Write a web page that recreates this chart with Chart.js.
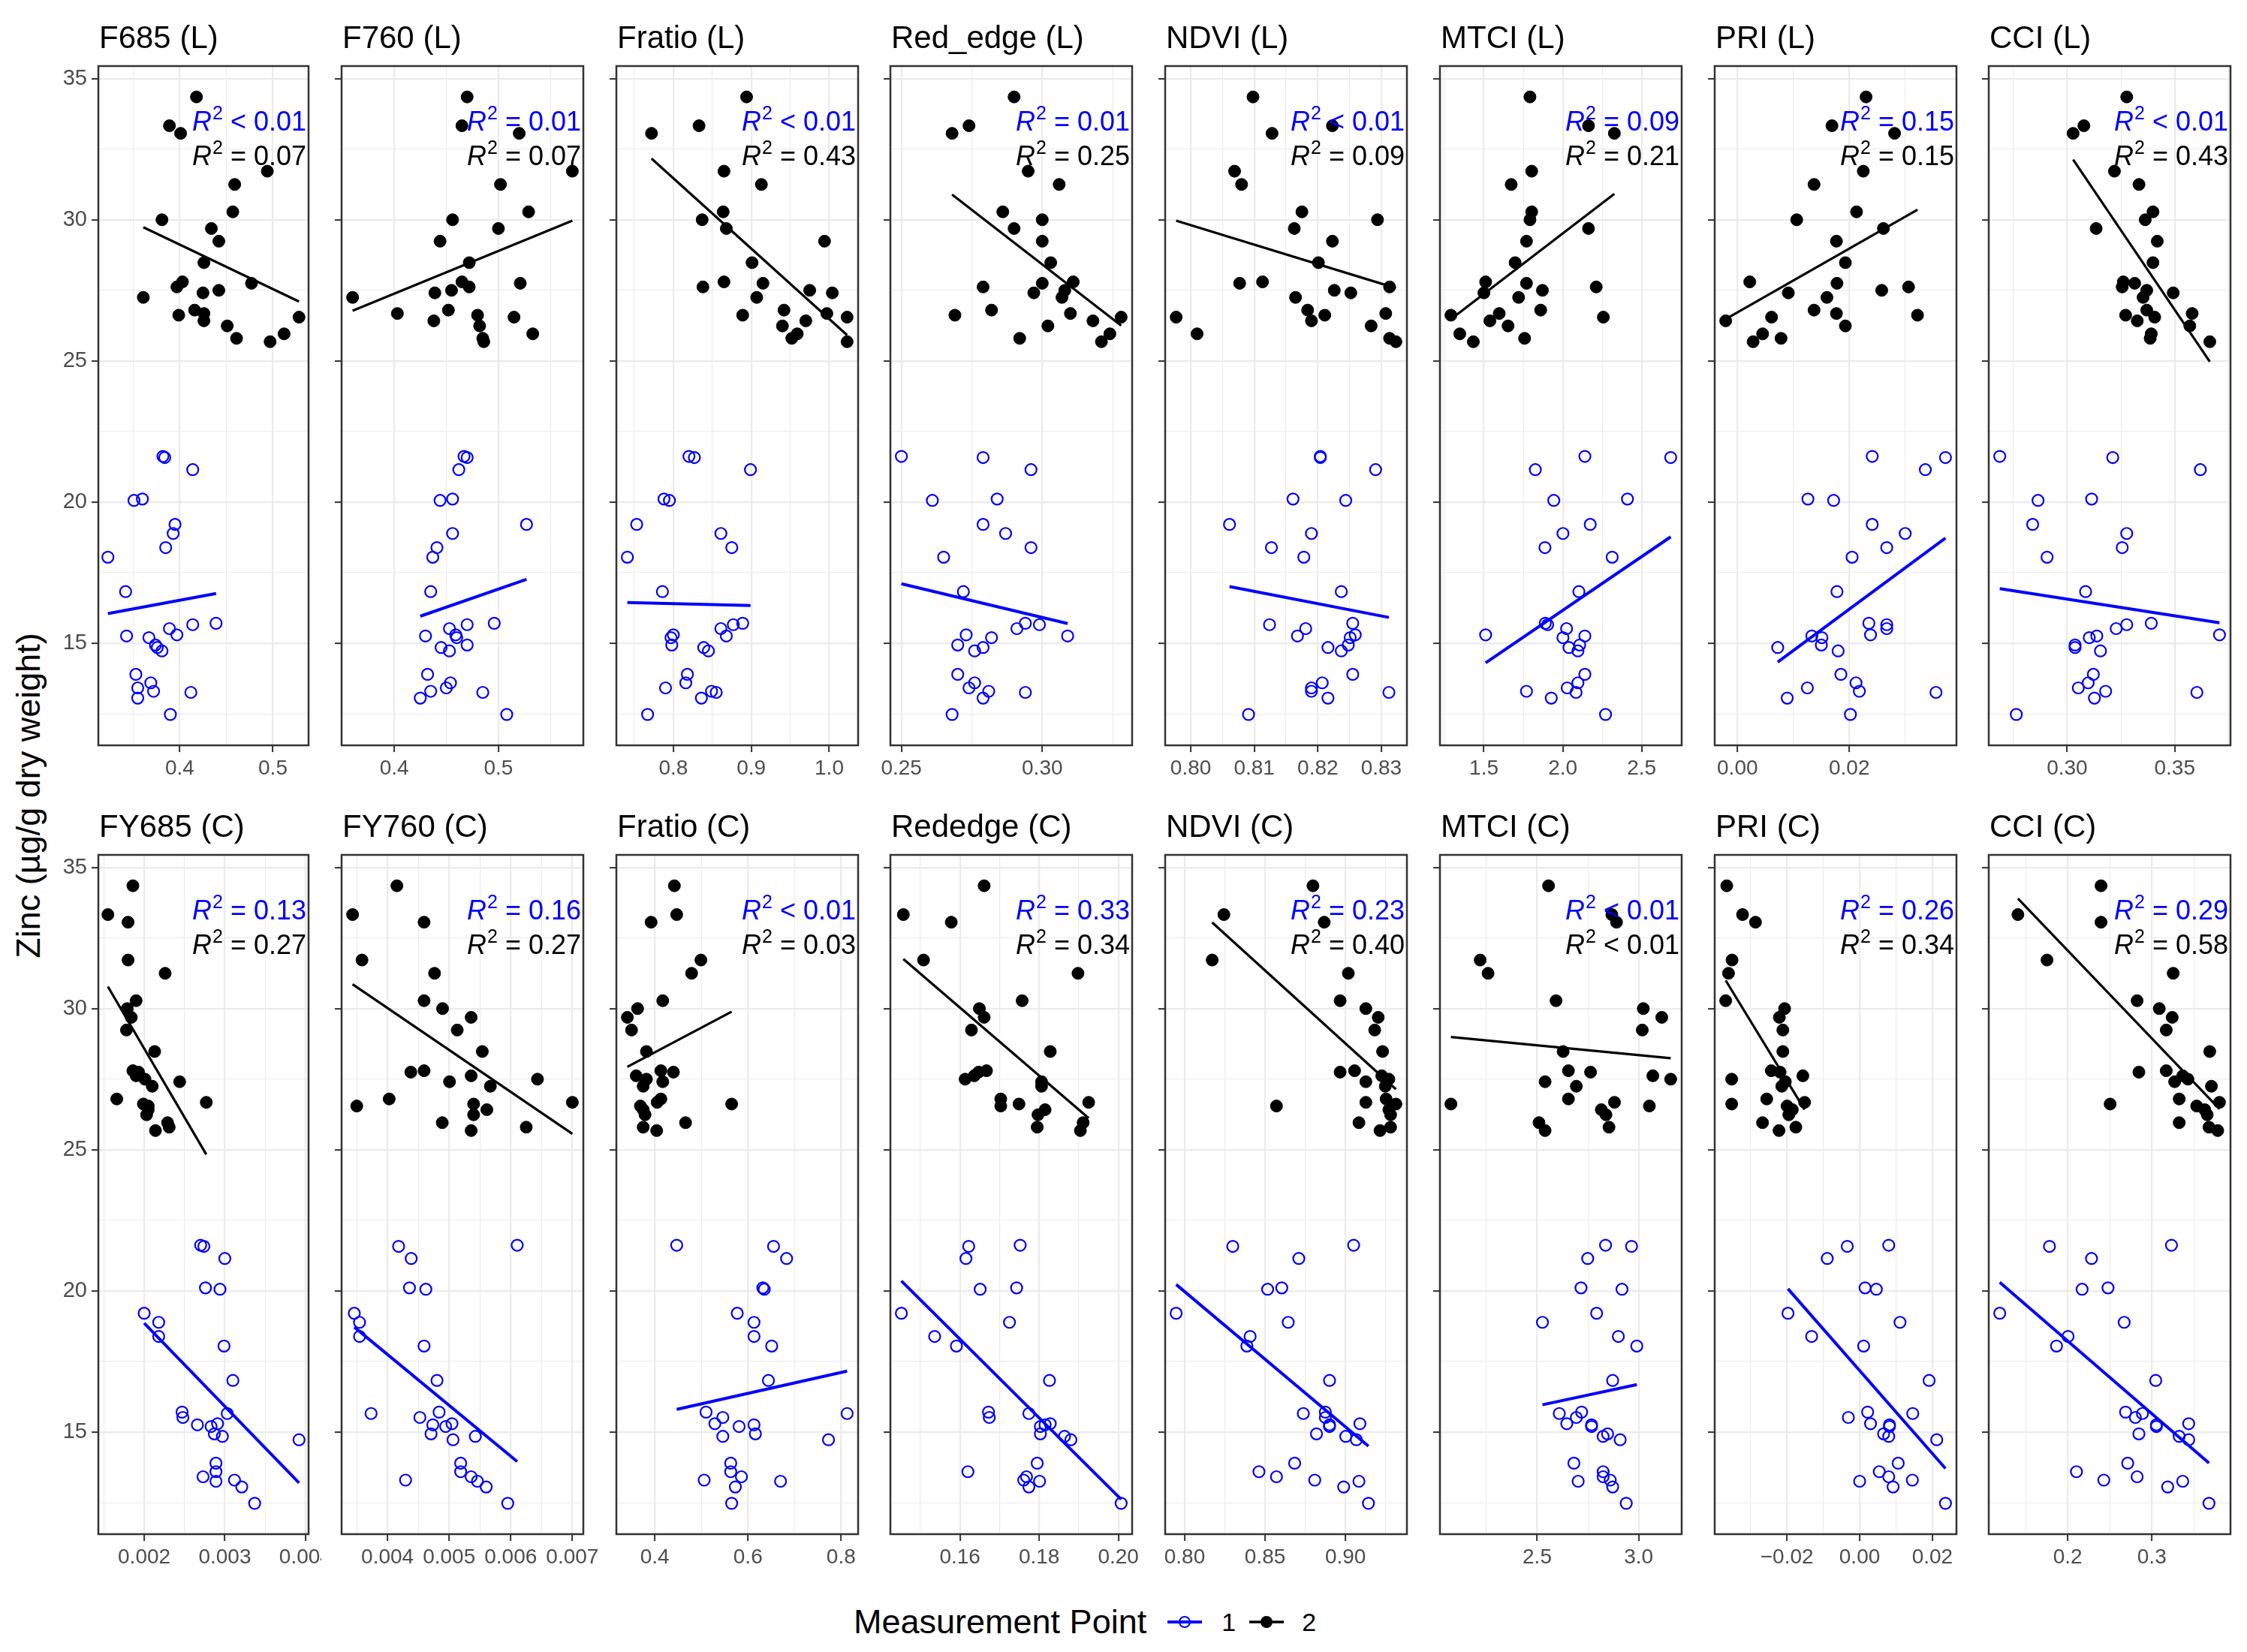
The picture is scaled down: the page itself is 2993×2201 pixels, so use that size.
<!DOCTYPE html>
<html>
<head>
<meta charset="utf-8">
<script src="https://cdn.jsdelivr.net/npm/chart.js@4.4.0/dist/chart.umd.min.js"></script>
<style>
  body { margin: 0; background: #fff; width: 2993px; height: 2201px; position: relative; overflow: hidden;
         font-family: "Liberation Sans", Arial, sans-serif; color: #000; }
  canvas { position: absolute; }
  #ytitle { position: absolute; left: 38px; top: 1060px; font-size: 45px; white-space: nowrap;
            transform: translate(-50%, -50%) rotate(-90deg); }
  #legend { position: absolute; left: 1137px; top: 2161px; transform: translateY(-50%);
            display: flex; align-items: center; white-space: nowrap; }
  #legend .ttl { font-size: 45px; }
  #legend .lab { font-size: 34px; }
</style>
</head>
<body>
<div id="ytitle">Zinc (µg/g dry weight)</div>
<div id="legend">
  <span class="ttl">Measurement Point</span>
  <svg width="46" height="22" style="margin-left:28px"><line x1="0" y1="11" x2="46" y2="11" stroke="#0000FF" stroke-width="4"/><circle cx="23" cy="11" r="7" fill="none" stroke="#0000FF" stroke-width="2"/></svg>
  <span class="lab" style="margin-left:26px">1</span>
  <svg width="46" height="22" style="margin-left:18px"><line x1="0" y1="11" x2="46" y2="11" stroke="#000" stroke-width="3.5"/><circle cx="23" cy="11" r="8" fill="#000"/></svg>
  <span class="lab" style="margin-left:24px">2</span>
</div>
<script>
// zinc (µg/g dry weight) per sample, measurement point 1 and 2
const zinc1 = [21.62, 21.58, 21.15, 20.11, 20.06, 19.21, 18.89, 18.39, 18.05, 16.83, 15.71, 15.66, 15.52,
               15.3, 15.26, 15.2, 14.94, 14.85, 14.73, 13.9, 13.6, 13.42, 13.3, 13.26, 13.06, 12.48];
const zinc2 = [34.35, 33.33, 33.06, 31.72, 31.25, 30.28, 30.0, 29.69, 29.24, 28.48, 27.8, 27.75, 27.62,
               27.5, 27.41, 27.25, 26.8, 26.68, 26.62, 26.55, 26.42, 26.24, 25.96, 25.8, 25.68];
const yTicks = ['15', '20', '25', '30', '35'];

// index values, same sample order as zinc1 / zinc2
const f685L_1 = [0.382,0.384,0.414,0.360,0.351,0.395,0.393,0.385,0.323,0.342,0.439,0.414,0.389,0.397,0.343,0.367,0.374,0.376,0.381,0.353,0.369,0.355,0.372,0.412,0.355,0.390];
const f685L_2 = [0.418,0.389,0.401,0.494,0.459,0.457,0.381,0.434,0.442,0.426,0.403,0.477,0.397,0.442,0.425,0.361,0.416,0.426,0.399,0.528,0.426,0.451,0.512,0.461,0.497];
const f760L_1 = [0.467,0.470,0.462,0.456,0.444,0.527,0.456,0.441,0.437,0.435,0.496,0.470,0.453,0.459,0.430,0.460,0.470,0.445,0.453,0.432,0.454,0.450,0.435,0.485,0.425,0.508];
const f760L_2 = [0.470,0.465,0.520,0.571,0.502,0.529,0.456,0.500,0.444,0.472,0.465,0.521,0.472,0.455,0.439,0.360,0.452,0.403,0.480,0.515,0.438,0.482,0.533,0.485,0.486];
const fratioL_1 = [0.820,0.827,0.899,0.788,0.795,0.753,0.861,0.875,0.741,0.786,0.889,0.877,0.861,0.800,0.868,0.797,0.798,0.839,0.845,0.818,0.816,0.790,0.849,0.855,0.836,0.767];
const fratioL_2 = [0.894,0.833,0.772,0.865,0.913,0.864,0.837,0.868,0.994,0.901,0.865,0.915,0.838,0.975,1.004,0.907,0.942,0.997,0.889,1.023,0.970,0.940,0.959,0.952,1.023];
const redEdgeL_1 = [0.250,0.279,0.296,0.284,0.261,0.279,0.287,0.296,0.265,0.272,0.294,0.299,0.291,0.273,0.309,0.282,0.270,0.279,0.276,0.270,0.276,0.274,0.281,0.294,0.279,0.268];
const redEdgeL_2 = [0.290,0.274,0.268,0.295,0.306,0.286,0.300,0.290,0.300,0.303,0.311,0.300,0.279,0.308,0.297,0.307,0.282,0.310,0.269,0.328,0.318,0.302,0.324,0.292,0.321];
const ndviL_1 = [0.8204,0.8204,0.8291,0.8161,0.8244,0.8061,0.8190,0.8127,0.8178,0.8237,0.8255,0.8124,0.8181,0.8259,0.8168,0.8251,0.8248,0.8216,0.8237,0.8255,0.8207,0.8190,0.8190,0.8312,0.8216,0.8091];
const ndviL_2 = [0.8098,0.8223,0.8128,0.8069,0.8080,0.8175,0.8294,0.8163,0.8223,0.8201,0.8113,0.8077,0.8313,0.8226,0.8252,0.8165,0.8184,0.8307,0.8211,0.7977,0.8190,0.8284,0.8010,0.8313,0.8323];
const mtciL_1 = [2.140,2.684,1.826,2.410,1.943,2.174,2.001,1.887,2.313,2.102,1.889,1.904,2.024,1.511,2.140,2.001,2.107,2.039,2.096,2.140,2.096,2.028,1.770,2.084,1.927,2.271];
const mtciL_2 = [1.792,2.163,2.327,1.803,1.673,1.803,1.792,2.163,1.770,1.698,1.511,1.770,2.212,1.871,1.500,1.720,1.860,1.597,1.291,2.257,1.538,1.653,1.347,1.758,1.433];
const priL_1 = [0.0241,0.0372,0.0336,0.0126,0.0172,0.0241,0.0300,0.0267,0.0205,0.0178,0.0235,0.0267,0.0267,0.0238,0.0133,0.0151,0.0150,0.0072,0.0180,0.0185,0.0212,0.0125,0.0218,0.0355,0.0089,0.0202];
const priL_2 = [0.0230,0.0169,0.0281,0.0225,0.0137,0.0213,0.0106,0.0261,0.0177,0.0193,0.0022,0.0178,0.0306,0.0258,0.0091,0.0160,0.0137,0.0177,0.0322,0.0061,-0.0021,0.0193,0.0045,0.0078,0.0028];
const cciL_1 = [0.2687,0.3212,0.3619,0.3114,0.2865,0.2840,0.3277,0.3256,0.2907,0.3086,0.3391,0.3277,0.3228,0.3708,0.3138,0.3103,0.3037,0.3037,0.3155,0.3122,0.3098,0.3052,0.3179,0.3603,0.3127,0.2764];
const cciL_2 = [0.3277,0.3078,0.3028,0.3220,0.3334,0.3399,0.3363,0.3135,0.3419,0.3399,0.3261,0.3314,0.3256,0.3370,0.3493,0.3353,0.3370,0.3581,0.3272,0.3407,0.3326,0.3570,0.3391,0.3386,0.3663];
const fy685C_1 = [0.00270,0.00274,0.00300,0.00276,0.00294,0.00200,0.00218,0.00218,0.00299,0.00310,0.00247,0.00303,0.00248,0.00291,0.00266,0.00283,0.00287,0.00297,0.00392,0.00289,0.00289,0.00273,0.00312,0.00289,0.00321,0.00337];
const fy685C_2 = [0.00186,0.00155,0.00180,0.00180,0.00226,0.00190,0.00179,0.00184,0.00178,0.00213,0.00186,0.00193,0.00190,0.00201,0.00244,0.00210,0.00166,0.00277,0.00199,0.00205,0.00205,0.00203,0.00229,0.00231,0.00214];
const fy760C_1 = [0.006105,0.004181,0.004385,0.004357,0.004623,0.003462,0.003547,0.003547,0.004594,0.004804,0.004838,0.003734,0.004526,0.005047,0.004736,0.004945,0.004707,0.005426,0.005064,0.005188,0.005188,0.005358,0.004294,0.00546,0.005602,0.005952];
const fy760C_2 = [0.004153,0.003434,0.004594,0.003587,0.004764,0.004594,0.004894,0.005358,0.005132,0.005539,0.004594,0.004379,0.005358,0.006434,0.005007,0.00567,0.004028,0.007,0.005398,0.003502,0.005613,0.005398,0.004889,0.006252,0.005358];
const fratioC_1 = [0.447,0.655,0.683,0.632,0.635,0.577,0.613,0.613,0.651,0.644,0.510,0.813,0.546,0.529,0.613,0.581,0.616,0.546,0.773,0.563,0.563,0.586,0.506,0.670,0.573,0.565];
const fratioC_2 = [0.442,0.447,0.392,0.499,0.479,0.417,0.363,0.341,0.350,0.382,0.413,0.440,0.360,0.382,0.417,0.375,0.413,0.405,0.565,0.369,0.375,0.379,0.466,0.375,0.404];
const rededgeC_1 = [0.1752,0.1622,0.1615,0.1743,0.1651,0.1452,0.1725,0.1536,0.1591,0.1826,0.1672,0.1774,0.1674,0.1828,0.1815,0.1803,0.1803,0.1864,0.1880,0.1795,0.1620,0.1768,0.1761,0.1801,0.1774,0.2007];
const rededgeC_2 = [0.1661,0.1457,0.1578,0.1508,0.1898,0.1757,0.1649,0.1661,0.1629,0.1828,0.1667,0.1647,0.1636,0.1613,0.1806,0.1806,0.1703,0.1925,0.1749,0.1703,0.1815,0.1797,0.1911,0.1795,0.1904];
const ndviC_1 = [0.9051,0.8299,0.8710,0.8604,0.8516,0.7947,0.8644,0.8407,0.8387,0.8901,0.8875,0.8738,0.8875,0.9090,0.8901,0.8901,0.8820,0.9002,0.9068,0.8684,0.8462,0.8571,0.8809,0.9084,0.8989,0.9143];
const ndviC_2 = [0.8798,0.8244,0.8868,0.8171,0.9018,0.8967,0.9127,0.9204,0.9182,0.9231,0.9057,0.8967,0.9226,0.9270,0.9127,0.9248,0.9253,0.9127,0.9314,0.8571,0.9270,0.9281,0.9084,0.9281,0.9215];
const mtciC_1 = [2.837,2.965,2.749,2.716,2.918,2.793,2.526,2.900,2.991,2.872,2.719,2.609,2.693,2.646,2.768,2.768,2.847,2.825,2.909,2.681,2.825,2.825,2.860,2.702,2.872,2.939];
const mtciC_2 = [2.556,2.868,2.891,2.219,2.258,2.593,3.023,3.114,3.018,2.628,2.654,2.763,3.070,3.158,2.539,2.693,2.654,2.881,2.075,3.053,2.816,2.839,2.509,2.854,2.539];
const priC_1 = [0.0080,-0.0034,-0.0089,0.0015,0.0046,-0.0197,0.0111,-0.0132,0.0011,0.0191,0.0022,0.0146,-0.0031,0.0030,0.0082,0.0082,0.0066,0.0080,0.0212,0.0106,0.0054,0.0080,0.0145,0.0000,0.0092,0.0236];
const priC_2 = [-0.03653,-0.03219,-0.02863,-0.03508,-0.03605,-0.03682,-0.02063,-0.02207,-0.02111,-0.02111,-0.02429,-0.02188,-0.01561,-0.03518,-0.02043,-0.0214,-0.02554,-0.01513,-0.03518,-0.01995,-0.01851,-0.01947,-0.0267,-0.01754,-0.02217];
const cciC_1 = [0.3233,0.1783,0.2283,0.2479,0.2171,0.1192,0.2671,0.2004,0.1867,0.3046,0.2688,0.2888,0.2804,0.3438,0.3054,0.3054,0.2846,0.3325,0.3438,0.2713,0.2104,0.2825,0.2429,0.3367,0.3188,0.3679];
const cciC_2 = [0.2396,0.1408,0.2396,0.1754,0.3254,0.2825,0.3088,0.3242,0.3171,0.3688,0.3171,0.2846,0.3367,0.3429,0.3271,0.3708,0.3325,0.3804,0.2504,0.3533,0.3629,0.3658,0.3325,0.3679,0.3783];

const titles = ['F685 (L)','F760 (L)','Fratio (L)','Red_edge (L)','NDVI (L)','MTCI (L)','PRI (L)','CCI (L)',
                'FY685 (C)','FY760 (C)','Fratio (C)','Rededge (C)','NDVI (C)','MTCI (C)','PRI (C)','CCI (C)'];
const xPoint1 = [f685L_1,f760L_1,fratioL_1,redEdgeL_1,ndviL_1,mtciL_1,priL_1,cciL_1,
                 fy685C_1,fy760C_1,fratioC_1,rededgeC_1,ndviC_1,mtciC_1,priC_1,cciC_1];
const xPoint2 = [f685L_2,f760L_2,fratioL_2,redEdgeL_2,ndviL_2,mtciL_2,priL_2,cciL_2,
                 fy685C_2,fy760C_2,fratioC_2,rededgeC_2,ndviC_2,mtciC_2,priC_2,cciC_2];
const xTicks = [['0.4','0.5'],['0.4','0.5'],['0.8','0.9','1.0'],['0.25','0.30'],['0.80','0.81','0.82','0.83'],
                ['1.5','2.0','2.5'],['0.00','0.02'],['0.30','0.35'],['0.002','0.003','0.004'],
                ['0.004','0.005','0.006','0.007'],['0.4','0.6','0.8'],['0.16','0.18','0.20'],
                ['0.80','0.85','0.90'],['2.5','3.0'],['\u22120.02','0.00','0.02'],['0.2','0.3']];
const r2Point1 = ['< 0.01','= 0.01','< 0.01','= 0.01','< 0.01','= 0.09','= 0.15','< 0.01',
                  '= 0.13','= 0.16','< 0.01','= 0.33','= 0.23','< 0.01','= 0.26','= 0.29'];
const r2Point2 = ['= 0.07','= 0.07','= 0.43','= 0.25','= 0.09','= 0.21','= 0.15','= 0.43',
                  '= 0.27','= 0.27','= 0.03','= 0.34','= 0.40','< 0.01','= 0.34','= 0.58'];
const labelY = [33.15, 31.93];

const FONT = '"Liberation Sans", Arial, sans-serif';
const BLUE = '#0000FF';
const PANEL_H = 905;

function ticksFor(labels, min, max) {
  const vals = labels.map(s => parseFloat(s.replace('\u2212', '-')));
  const half = (vals[1] - vals[0]) / 2;
  const out = [];
  for (let k = Math.ceil(min / half - 1e-9); k <= Math.floor(max / half + 1e-9); k++) {
    const v = +(k * half).toFixed(10);
    const j = vals.findIndex(m => Math.abs(m - v) < half * 1e-3);
    out.push({ value: v, big: j >= 0, text: j >= 0 ? labels[j] : '' });
  }
  return out;
}

function pts(xs, ys) { return xs.map((x, i) => ({ x: x, y: ys[i] })); }

function fitLine(xs, ys) {
  const n = xs.length;
  const mx = xs.reduce((a, b) => a + b, 0) / n, my = ys.reduce((a, b) => a + b, 0) / n;
  let sxy = 0, sxx = 0;
  for (let i = 0; i < n; i++) { sxy += (xs[i] - mx) * (ys[i] - my); sxx += (xs[i] - mx) ** 2; }
  const b = sxy / sxx, a = my - b * mx;
  const x0 = Math.min(...xs), x1 = Math.max(...xs);
  return [{ x: x0, y: a + b * x0 }, { x: x1, y: a + b * x1 }];
}

function drawR2(ctx, right, y, txt, color) {
  ctx.fillStyle = color; ctx.textAlign = 'left'; ctx.textBaseline = 'alphabetic';
  ctx.font = 'italic 36px ' + FONT; const wR = ctx.measureText('R').width;
  ctx.font = '25px ' + FONT; const w2 = ctx.measureText('2').width;
  ctx.font = '36px ' + FONT; const rest = ' ' + txt; const wT = ctx.measureText(rest).width;
  let x = right - wR - w2 - wT - 1;
  ctx.font = 'italic 36px ' + FONT; ctx.fillText('R', x, y); x += wR + 1;
  ctx.font = '25px ' + FONT; ctx.fillText('2', x, y - 15); x += w2;
  ctx.font = '36px ' + FONT; ctx.fillText(rest, x, y);
}

const allZinc = zinc1.concat(zinc2);
const zLo = Math.min(...allZinc), zHi = Math.max(...allZinc), zPad = (zHi - zLo) * 0.05;
const yMin = zLo - zPad, yMax = zHi + zPad;

function gridOpts() {
  return {
    color: '#EBEBEB',
    lineWidth: c => (c.tick && c.tick.big) ? 2.2 : 1.1,
    drawTicks: true, tickLength: 9, tickWidth: 2,
    tickColor: c => (c.tick && c.tick.big) ? '#333333' : 'rgba(0,0,0,0)'
  };
}

titles.forEach((title, i) => {
  const row = Math.floor(i / 8), col = i % 8;
  const left = col === 0 ? 131 : Math.round(455 + (col - 1) * 365.7);
  const width = col === 0 ? 280 : 322;
  const top = row === 0 ? 88 : 1139;
  const yw = col === 0 ? 71 : 12;
  const padR = col === 0 ? 17 : 30, padT = 72, padB = 6, xh = 50;

  const cv = document.createElement('canvas');
  cv.width = yw + width + padR;
  cv.height = padT + PANEL_H + xh + padB;
  cv.style.left = (left - yw) + 'px';
  cv.style.top = (top - padT) + 'px';
  document.body.appendChild(cv);

  const x1 = xPoint1[i], x2 = xPoint2[i];
  const allX = x1.concat(x2);
  const lo = Math.min(...allX), hi = Math.max(...allX), pad = (hi - lo) * 0.05;
  const xMin = lo - pad, xMax = hi + pad;

  new Chart(cv, {
    type: 'scatter',
    data: {
      datasets: [
        { label: 'fit 2', data: fitLine(x2, zinc2), showLine: true, borderColor: '#000', borderWidth: 3.2, pointRadius: 0, order: 0 },
        { label: 'fit 1', data: fitLine(x1, zinc1), showLine: true, borderColor: BLUE, borderWidth: 4, pointRadius: 0, order: 1 },
        { label: '2', data: pts(x2, zinc2), pointRadius: 8, pointBorderWidth: 1, pointBackgroundColor: '#000', pointBorderColor: '#000', order: 2 },
        { label: '1', data: pts(x1, zinc1), pointRadius: 7.5, pointBorderWidth: 2.2, pointBackgroundColor: 'rgba(0,0,0,0)', pointBorderColor: BLUE, order: 3 }
      ]
    },
    options: {
      responsive: false, animation: false, devicePixelRatio: 1, events: [],
      layout: { autoPadding: false, padding: { left: 0, right: padR, top: padT, bottom: padB } },
      plugins: { legend: { display: false }, tooltip: { enabled: false } },
      scales: {
        x: {
          type: 'linear', min: xMin, max: xMax, bounds: 'data',
          afterBuildTicks: s => { s.ticks = ticksFor(xTicks[i], xMin, xMax); },
          afterFit: s => { s.height = xh; s.paddingLeft = 0; s.paddingRight = 0; },
          grid: gridOpts(), border: { display: false },
          ticks: { autoSkip: false, maxRotation: 0, minRotation: 0, padding: 5, color: '#4D4D4D',
                   font: { family: FONT, size: 28 }, callback: (v, k, t) => t[k].text }
        },
        y: {
          type: 'linear', min: yMin, max: yMax, bounds: 'data',
          afterBuildTicks: s => { s.ticks = ticksFor(yTicks, yMin, yMax); },
          afterFit: s => { s.width = yw; s.paddingTop = 0; s.paddingBottom = 0; },
          grid: gridOpts(), border: { display: false },
          ticks: { display: col === 0, autoSkip: false, padding: 6, color: '#4D4D4D',
                   font: { family: FONT, size: 29 }, callback: (v, k, t) => t[k].text }
        }
      }
    },
    plugins: [{
      id: 'panelDeco',
      afterDatasetsDraw(chart) {
        const { ctx, chartArea: a, scales } = chart;
        ctx.save();
        drawR2(ctx, a.right - 3, scales.y.getPixelForValue(labelY[0]), r2Point1[i], BLUE);
        drawR2(ctx, a.right - 3, scales.y.getPixelForValue(labelY[1]), r2Point2[i], '#000');
        ctx.strokeStyle = '#333333'; ctx.lineWidth = 2.5;
        ctx.strokeRect(a.left, a.top, a.right - a.left, a.bottom - a.top);
        ctx.fillStyle = '#000'; ctx.font = '42px ' + FONT; ctx.textAlign = 'left'; ctx.textBaseline = 'alphabetic';
        ctx.fillText(title, a.left + 1, a.top - 24);
        ctx.restore();
      }
    }]
  });
});
</script>
</body>
</html>
